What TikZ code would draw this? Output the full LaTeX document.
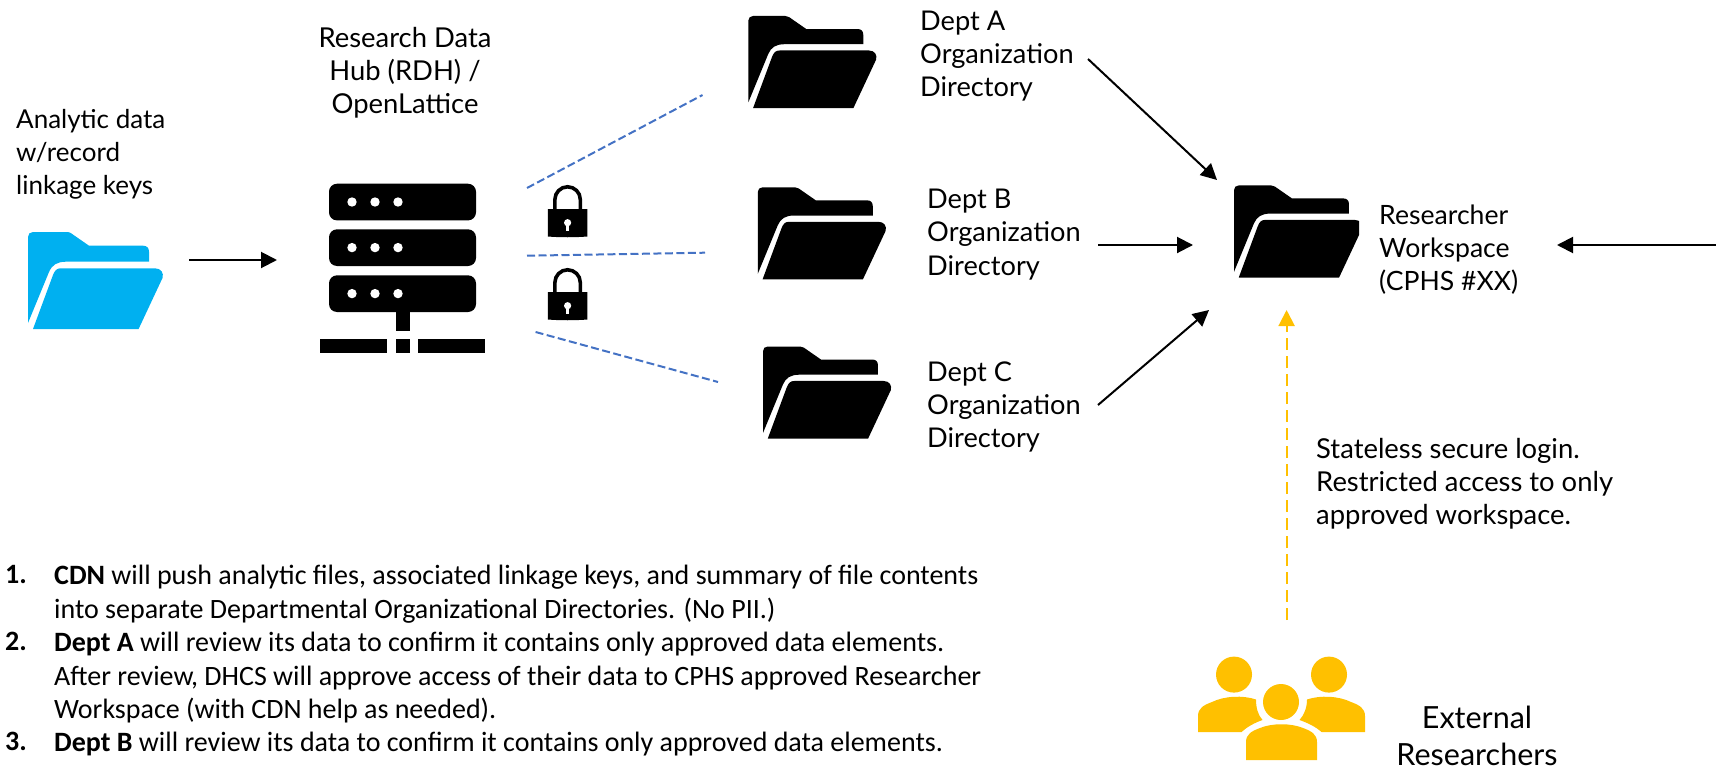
\documentclass[tikz,border=0pt]{standalone}
\usepackage{fontspec}
\setmainfont{Lato}
\newfontfamily\bodyfont{Carlito}
\usetikzlibrary{arrows.meta}
\definecolor{cyanf}{HTML}{00B0F0}
\definecolor{dashblue}{HTML}{4472C4}
\definecolor{gold}{HTML}{FFC000}
\newcommand{\folderic}[4]{%
  \begin{scope}[shift={(#1,#2)},scale=#3,fill=#4]
    \fill (0,5) .. controls (0,2) and (2,0) .. (5,0) -- (39,0) .. controls (41,0) and (42,.5) .. (43,1.2) -- (61,13.7) -- (115,13.7) .. controls (119,13.7) and (121,16) .. (121,19.7) -- (121,29.7) -- (38,29.7) .. controls (29,29.7) and (24,33) .. (21,40) -- (0,91) -- cycle;
    \fill (33,36.3) -- (127,36.3) .. controls (133,36.3) and (136,41) .. (134.5,46) -- (110.6,97) -- (5,97) -- (25,43) .. controls (27,38) and (29,36.3) .. (33,36.3) -- cycle;
  \end{scope}}
\newcommand{\lockic}[2]{%
  \begin{scope}[shift={(#1,#2)}]
    \draw[line width=3.6pt] (-12.7,26) -- (-12.7,13.5) arc[start angle=180,end angle=360,radius=12.7] -- (12.7,26);
    \fill (-19.8,23) -- (19.8,23) -- (19.8,50.5) .. controls (7,51.5) and (-7,51.5) .. (-19.8,50.5) -- cycle;
    \fill[white] (0,36.7) circle[radius=3.6];
    \fill[white] (-1.6,37) -- (1.6,37) -- (1.6,44.5) -- (-1.6,44.5) -- cycle;
  \end{scope}}
\tikzset{
  lab/.style={inner sep=0pt,font=\fontsize{27.2}{33.2}\selectfont},
  bodyt/.style={inner sep=0pt,anchor=north west,align=left,font=\bodyfont\fontsize{28}{33.4}\selectfont},
  bodyn/.style={bodyt,font=\bodyfont\bfseries\fontsize{28}{33.4}\selectfont},
  arr/.style={line width=2pt,-{Triangle[length=16pt,width=16pt]}},
  dashline/.style={line width=2pt,draw=dashblue,dash pattern=on 8pt off 3.5pt},
  golddash/.style={line width=2pt,draw=gold,dash pattern=on 12pt off 6pt,-{Triangle[length=16pt,width=16pt]}}
}
\begin{document}
\begin{tikzpicture}[x=1pt,y=-1pt]
\useasboundingbox (0,0) rectangle (1716,768);
% folders
\folderic{28}{232}{1}{cyanf}
\folderic{748.3}{16}{.95}{black}
\folderic{757.8}{187.3}{.95}{black}
\folderic{763}{346.5}{.95}{black}
\begin{scope}
  \clip (1200,150) rectangle (1359,300);
  \folderic{1234}{185.4}{.95}{black}
\end{scope}
% server
\foreach \yy in {183.7,229.3,275.3}{
  \fill[rounded corners=8pt] (329,\yy) rectangle (476,\yy+36.7);
  \foreach \xx in {352,375,398}{\fill[white] (\xx,\yy+18.3) circle[radius=4.7];}
}
\fill (396,312) rectangle (410,330.7);
\fill (320,339) rectangle (387,352.7);
\fill (396,339) rectangle (410,352.7);
\fill (418,339) rectangle (485,352.7);
% locks
\lockic{567.6}{186}
\lockic{567.6}{269}
% people
\fill[gold] (1234,674.6) circle[radius=18];
\fill[gold] (1329,674.6) circle[radius=18];
\fill[gold] (1281,702) circle[radius=18];
\fill[gold] (1198,732) -- (1198,716) .. controls (1198,708) and (1204,705) .. (1212,702) .. controls (1224,696) and (1243,695) .. (1256,699.5) .. controls (1256,708) and (1258,715) .. (1262.5,720) .. controls (1254,723) and (1247,727) .. (1241.5,732) -- cycle;
\fill[gold] (1365,732) -- (1365,716) .. controls (1365,708) and (1359,705) .. (1351,702) .. controls (1339,696) and (1320,695) .. (1307,699.5) .. controls (1307,708) and (1304,715) .. (1299.5,720) .. controls (1308,723) and (1316,727) .. (1321.5,732) -- cycle;
\fill[gold] (1246,760) -- (1246,742) .. controls (1246,734) and (1252,731) .. (1260,728) .. controls (1272,723) and (1291,723) .. (1303,728) .. controls (1311,731) and (1317,734) .. (1317,742) -- (1317,760) -- cycle;
% labels
\node[lab,align=left,anchor=west,font=\fontsize{26}{33}\selectfont] (analytic) at (16,154.5) {Analytic data\\w/record\\linkage keys};
\node[lab,align=center,font=\fontsize{27.4}{33}\selectfont] (rdh) at (405,72.5) {Research Data\\Hub (RDH) /\\OpenLattice};
\node[lab,align=left,anchor=west] (depta) at (920,56) {Dept A\\Organization\\Directory};
\node[lab,align=left,anchor=west] (deptb) at (927,234.5) {Dept B\\Organization\\Directory};
\node[lab,align=left,anchor=west] (deptc) at (927,407) {Dept C\\Organization\\Directory};
\node[lab,align=left,anchor=west,font=\fontsize{26.6}{33}\selectfont] (workspace) at (1379,250) {Researcher\\Workspace\\(CPHS \#XX)};
\node[lab,align=left,anchor=west,font=\fontsize{27.4}{33}\selectfont] (login) at (1316,483.5) {Stateless secure login.\\Restricted access to only\\approved workspace.};
\node[lab,align=center,font=\fontsize{30.5}{37}\selectfont] (external) at (1477,736) {External\\Researchers};
% list
\node[bodyn] (n1) at (5,565) {1.};
\node[bodyt] (t1) at (54,565) {\textbf{CDN} will push analytic files, associated linkage keys, and summary of file contents\\into separate Departmental Organizational Directories. (No PII.)};
\node[bodyn] (n2) at (5,632) {2.};
\node[bodyt] (t2) at (54,632) {\textbf{Dept A} will review its data to confirm it contains only approved data elements.\\After review, DHCS will approve access of their data to CPHS approved Researcher\\Workspace (with CDN help as needed).};
\node[bodyn] (n3) at (5,732) {3.};
\node[bodyt] (t3) at (54,732) {\textbf{Dept B} will review its data to confirm it contains only approved data elements.};
% connector ends
\coordinate (c0a) at (189,260);
\coordinate (c0b) at (277,260);
\coordinate (d1a) at (527,188);
\coordinate (d1b) at (702.5,95);
\coordinate (d2a) at (527,255.7);
\coordinate (d2b) at (705,252.7);
\coordinate (d3a) at (535.6,332);
\coordinate (d3b) at (718,382);
\coordinate (aa) at (1088,59);
\coordinate (ab) at (1217,180);
\coordinate (ba) at (1098,245);
\coordinate (bb) at (1193,245);
\coordinate (ca) at (1098,405);
\coordinate (cb) at (1209,310);
\coordinate (ra) at (1716,245);
\coordinate (rb) at (1557,245);
\coordinate (ya) at (1286.6,620);
\coordinate (yb) at (1286.6,310);
\draw[arr] (c0a) -- (c0b);
\draw[dashline] (d1a) -- (d1b);
\draw[dashline] (d2a) -- (d2b);
\draw[dashline] (d3a) -- (d3b);
\draw[arr] (aa) -- (ab);
\draw[arr] (ba) -- (bb);
\draw[arr] (ca) -- (cb);
\draw[arr] (ra) -- (rb);
\draw[golddash] (ya) -- (yb);
\end{tikzpicture}
\end{document}
